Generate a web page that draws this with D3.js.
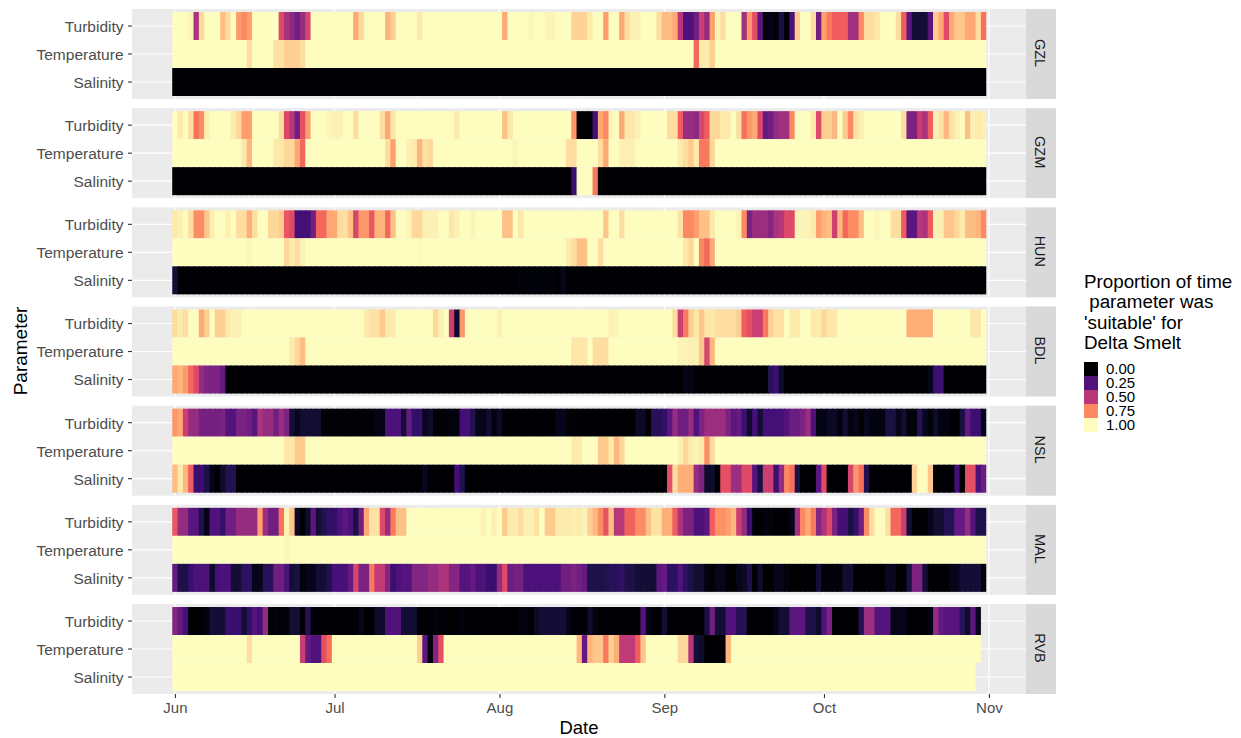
<!DOCTYPE html>
<html><head><meta charset="utf-8">
<script src="https://cdn.jsdelivr.net/npm/d3@7"></script>
<style>html,body{margin:0;padding:0;background:#fff}svg{display:block}text{font-family:"Liberation Sans",Arial,sans-serif}</style>
</head><body><svg id="c" width="1241" height="738"></svg>
<script>
const stations=["GZL","GZM","HUN","BDL","NSL","MAL","RVB"];
const parameters=["Turbidity","Temperature","Salinity"];
const monthTicks=[["Jun",5,1],["Jul",6,1],["Aug",7,1],["Sep",8,1],["Oct",9,1],["Nov",10,1]];
const legendValues=[0,0.25,0.5,0.75,1];
const legendLabels=["0.00","0.25","0.50","0.75","1.00"];
const legendTitle=["Proportion of time"," parameter was","'suitable' for","Delta Smelt"];
// each row: [first day index, proportion] — value holds until the next entry
const GZL_Turbidity=[[0,1],[3,.98],[4,.47],[5,.92],[6,1],[9,.86],[10,.93],[11,1],[12,.79],[13,.75],[14,.8],[15,1],[20,.6],[21,.47],[22,.4],[23,.33],[24,.42],[25,.58],[26,1],[34,.82],[35,.92],[36,1],[40,.84],[41,.9],[42,1],[46,.96],[47,1],[62,.82],[63,1],[67,.985],[68,1],[70,.98],[72,1],[75,.91],[78,.96],[79,1],[81,.8],[82,1],[84,.82],[85,.93],[86,.97],[88,1],[91,.93],[92,.86],[94,.82],[95,.5],[96,.25],[98,.33],[99,.55],[100,.42],[101,.8],[102,.98],[103,.93],[104,1],[107,.45],[108,.78],[109,.62],[110,.28],[111,.02],[112,.04],[113,.02],[114,.12],[115,0],[116,.24],[117,.89],[118,1],[120,.93],[121,.33],[122,.8],[123,.72],[124,.66],[127,.45],[129,.75],[130,.93],[132,.95],[133,1],[136,.93],[137,.66],[138,.28],[139,.1],[142,.27],[143,.89],[144,.82],[145,.6],[146,.82],[147,.88],[149,.82],[151,.93],[152,.7]];
const GZL_Temperature=[[0,1],[14,.93],[15,1],[19,.94],[21,.9],[24,.93],[25,1],[98,.68],[99,.96],[101,.9],[102,1]];
const GZL_Salinity=[[0,0]];
const GZM_Turbidity=[[0,1],[1,.96],[2,1],[3,.93],[4,.7],[5,.76],[6,.97],[7,1],[11,.96],[12,.92],[13,.8],[15,1],[20,.93],[21,.6],[22,.5],[23,.33],[24,.62],[25,.8],[26,1],[29,.985],[30,.975],[32,1],[34,.93],[35,1],[39,.93],[40,.82],[41,.95],[42,1],[53,.96],[54,1],[62,.87],[63,.95],[64,1],[75,.78],[76,0],[79,.22],[80,.82],[81,.75],[82,.98],[83,1],[84,.82],[85,.95],[87,.97],[88,1],[93,.93],[95,.66],[96,.43],[98,.4],[99,.58],[100,.66],[101,.92],[103,.96],[105,1],[106,.93],[107,.7],[108,.78],[109,.82],[110,.6],[111,.3],[112,.33],[113,.42],[114,.45],[116,.75],[117,1],[120,.96],[121,.6],[122,.9],[124,.85],[125,1],[126,.89],[127,.75],[128,.94],[129,.97],[130,1],[137,.93],[138,.36],[140,.55],[141,.47],[142,.66],[143,.97],[144,.94],[145,.85],[146,.94],[147,.97],[148,1],[149,.87],[150,.97],[151,.96],[152,.97]];
const GZM_Temperature=[[0,1],[13,.95],[14,.85],[15,1],[19,.96],[20,.95],[21,.92],[23,.82],[24,.68],[25,1],[40,.93],[41,.8],[42,1],[44,.97],[45,.96],[46,.84],[47,.94],[48,.92],[49,1],[64,.985],[65,1],[74,.93],[76,1],[80,.93],[81,.82],[82,1],[84,.97],[87,1],[95,.96],[96,.93],[97,.89],[98,.96],[99,.72],[101,.92],[102,1]];
const GZM_Salinity=[[0,0],[75,.2],[76,1],[79,.72],[80,0]];
const HUN_Turbidity=[[0,.96],[1,.97],[2,1],[3,.93],[4,.76],[6,.88],[7,.97],[8,1],[10,.97],[11,1],[12,.93],[14,.83],[15,.93],[16,1],[18,.92],[20,.89],[21,.64],[22,.6],[23,.22],[26,.33],[27,.68],[29,.82],[31,.93],[33,.87],[34,.58],[35,.78],[37,.64],[38,.84],[40,.68],[41,.87],[42,1],[44,.98],[45,.92],[47,.97],[50,1],[52,.95],[53,.97],[54,1],[56,.98],[57,1],[62,.87],[64,1],[65,.95],[66,1],[81,.88],[82,1],[84,.93],[85,1],[95,.94],[96,.75],[98,.8],[99,.87],[101,.96],[102,1],[106,.98],[107,.75],[108,.35],[109,.44],[112,.38],[113,.47],[114,.5],[115,.6],[117,.98],[120,.96],[121,.8],[122,.84],[123,.86],[124,.56],[125,.85],[126,.68],[127,.76],[129,.86],[130,1],[132,.985],[133,1],[135,.93],[137,.65],[138,.28],[140,.5],[141,.48],[142,.65],[143,.97],[145,.88],[147,.92],[148,.96],[149,.86],[151,.84],[152,.75]];
const HUN_Temperature=[[0,1],[14,.985],[15,1],[21,.92],[22,.96],[23,.93],[24,.98],[25,1],[46,.99],[47,1],[74,.96],[75,.93],[76,.87],[78,1],[80,.93],[81,1],[96,.95],[97,.92],[98,1],[99,.75],[100,.68],[101,.82],[102,1]];
const HUN_Salinity=[[0,.1],[1,0],[65,.02],[72,0],[73,.05],[74,0]];
const BDL_Turbidity=[[0,.93],[1,.96],[2,.93],[3,1],[5,.82],[6,.9],[7,1],[8,.9],[10,.96],[11,.97],[13,1],[36,.96],[37,.94],[39,.89],[40,.96],[42,1],[49,.92],[50,.97],[51,1],[52,.55],[53,.08],[54,.78],[55,1],[61,.97],[62,1],[82,.97],[83,.985],[84,1],[94,.93],[95,.55],[96,.72],[97,.9],[98,.95],[99,.88],[100,.95],[102,.93],[106,.9],[107,.66],[108,.62],[109,.55],[111,.72],[112,.9],[113,.94],[115,1],[116,.96],[118,1],[120,.96],[122,.92],[123,.95],[125,1],[138,.83],[143,1],[150,.95],[152,1]];
const BDL_Temperature=[[0,1],[22,.96],[23,.92],[24,.86],[25,1],[75,.95],[78,1],[79,.93],[82,1],[95,.98],[97,.97],[99,.88],[100,.58],[101,.85],[102,1]];
const BDL_Salinity=[[0,.82],[1,.84],[2,.79],[3,.68],[4,.6],[5,.42],[6,.37],[7,.36],[9,.3],[10,0],[96,.04],[98,0],[112,.16],[113,.2],[114,.08],[115,0],[142,.05],[143,.2],[145,0]];
const NSL_Turbidity=[[0,.78],[1,.82],[2,.55],[3,.42],[5,.34],[9,.36],[10,.26],[12,.35],[14,.33],[15,.27],[16,.47],[17,.42],[19,.33],[20,.44],[21,.36],[22,.1],[23,.06],[24,.09],[28,.01],[38,.04],[40,.24],[43,.1],[44,.3],[45,.18],[47,.06],[48,.08],[49,.01],[52,.03],[54,.22],[56,.14],[57,.05],[59,.09],[60,.03],[61,.07],[62,0],[72,.05],[74,.01],[76,0],[87,.07],[89,0],[90,.16],[92,.18],[93,.28],[94,.42],[95,.33],[97,.42],[98,.25],[99,.36],[100,.44],[104,.36],[105,.28],[106,.3],[107,.2],[108,.08],[109,.22],[110,.1],[111,.22],[115,.26],[116,.32],[118,.36],[119,.44],[120,.24],[121,.04],[123,.07],[125,.03],[126,.09],[127,.03],[128,.05],[129,.01],[130,.06],[131,.03],[134,.12],[136,.05],[137,.09],[138,.02],[140,.15],[141,.06],[142,.02],[143,.08],[144,.03],[146,0],[148,.12],[149,.3],[150,.2],[152,.05]];
const NSL_Temperature=[[0,1],[21,.95],[23,.89],[25,1],[75,.96],[77,1],[80,.89],[82,.96],[83,.85],[84,.92],[85,1],[95,.97],[96,.92],[97,.96],[98,.98],[99,.96],[100,.76],[101,.93],[102,1]];
const NSL_Salinity=[[0,.86],[1,.96],[2,.85],[3,.66],[4,.2],[6,.13],[7,.04],[8,0],[9,.08],[10,.14],[12,0],[47,.06],[48,0],[53,.22],[54,.14],[55,0],[93,.62],[94,.93],[95,.83],[98,.42],[99,.36],[100,.08],[102,0],[103,.62],[105,.44],[107,.6],[109,.26],[110,.12],[111,.55],[113,.2],[114,.42],[115,.75],[116,.7],[117,.12],[118,0],[121,.28],[122,.6],[123,0],[127,.58],[128,.78],[129,.7],[130,.14],[131,0],[139,.91],[140,1],[142,.88],[143,0],[147,.22],[148,0],[149,.62],[151,.24],[152,.32]];
const MAL_Turbidity=[[0,.64],[1,.42],[3,.27],[5,.13],[6,.04],[7,.25],[9,.18],[10,.33],[12,.42],[16,.8],[17,.44],[18,.33],[20,.7],[21,.98],[22,.88],[23,.07],[24,0],[25,.08],[26,.28],[27,.1],[28,.14],[29,.18],[31,.24],[32,.28],[33,.24],[34,.12],[35,.33],[36,.82],[37,.94],[39,.6],[40,.42],[41,.72],[42,.87],[44,1],[58,.98],[59,1],[60,.97],[61,1],[62,.89],[63,.96],[65,.93],[66,.97],[68,.94],[69,1],[70,.89],[72,.96],[75,.97],[76,.96],[77,.98],[78,.9],[79,.85],[80,.76],[81,.63],[82,.87],[83,.5],[85,.67],[87,.76],[89,.87],[90,.94],[92,.83],[94,.66],[95,.48],[96,.36],[98,.24],[100,.28],[101,.66],[102,.77],[104,.8],[105,.85],[106,.55],[107,.42],[108,.2],[109,.01],[111,.03],[112,.02],[113,0],[116,.04],[117,.45],[118,.75],[119,.82],[120,.72],[121,.38],[122,.48],[123,.6],[124,.36],[125,.22],[127,.12],[128,.18],[129,.33],[130,.76],[131,.93],[132,1],[134,.94],[135,.68],[137,.55],[138,.1],[139,0],[142,.05],[143,.09],[145,.15],[147,.3],[149,.42],[150,.26],[151,.13]];
const MAL_Temperature=[[0,1],[21,.985],[22,1]];
const MAL_Salinity=[[0,.3],[1,.13],[3,.2],[4,.24],[7,.08],[8,.22],[9,.24],[11,.1],[13,.17],[15,.05],[17,.16],[19,.33],[21,.24],[22,.1],[23,.12],[24,.02],[25,.05],[27,.1],[29,.14],[30,.23],[33,.3],[34,.58],[35,.36],[37,.72],[38,.52],[40,.38],[41,.2],[42,.24],[43,.26],[45,.37],[48,.42],[50,.48],[52,.38],[54,.26],[56,.3],[57,.24],[59,.2],[61,.42],[62,.6],[63,.32],[64,.34],[66,.24],[73,.33],[75,.36],[76,.33],[77,.3],[78,.13],[81,.14],[82,.16],[84,.18],[85,.13],[87,.1],[91,.28],[92,.3],[93,.17],[95,.25],[96,.17],[97,.13],[98,.09],[100,.03],[101,.01],[102,.05],[104,0],[106,.05],[107,.07],[108,.13],[109,0],[110,.08],[111,0],[113,.05],[115,.02],[116,0],[121,.1],[122,.02],[126,.09],[128,0],[134,.06],[136,0],[138,.12],[139,.36],[141,.1],[142,0],[146,.05],[148,.1],[152,.02]];
const RVB_Turbidity=[[0,.38],[1,.3],[2,.22],[3,0],[6,.03],[7,.1],[10,.2],[13,.1],[14,.18],[15,.26],[16,.22],[17,.42],[18,0],[19,.02],[22,.1],[24,0],[25,.15],[26,0],[35,.05],[36,0],[38,.08],[40,.25],[43,.1],[46,0],[49,.03],[50,0],[54,.03],[55,0],[65,.03],[67,0],[68,.07],[69,.1],[74,.05],[75,0],[78,.08],[79,.03],[80,0],[88,.26],[89,.05],[90,0],[92,.09],[93,0],[100,.12],[101,.33],[102,.1],[104,.25],[106,.15],[108,0],[113,.05],[114,.1],[116,.28],[119,.13],[121,.08],[122,.25],[123,.36],[124,0],[129,.15],[130,.44],[132,.26],[135,.05],[138,0],[142,.04],[143,.42],[144,.3],[145,.27],[148,.16],[149,.08],[150,.28],[151,.05],[152,null]];
const RVB_Temperature=[[0,1],[14,.93],[15,1],[24,.55],[25,.3],[26,.25],[28,.62],[29,.7],[30,1],[46,.9],[47,.28],[48,.02],[49,.38],[50,.62],[51,1],[76,.85],[77,.3],[78,.84],[79,.88],[81,.72],[82,.9],[83,.83],[84,.52],[87,.66],[88,.88],[89,1],[95,.92],[97,.5],[98,.1],[99,.08],[100,0],[104,.84],[105,1],[152,null]];
const RVB_Salinity=[[0,1],[151,null]];

const rows={GZL:[GZL_Turbidity,GZL_Temperature,GZL_Salinity],GZM:[GZM_Turbidity,GZM_Temperature,GZM_Salinity],HUN:[HUN_Turbidity,HUN_Temperature,HUN_Salinity],BDL:[BDL_Turbidity,BDL_Temperature,BDL_Salinity],NSL:[NSL_Turbidity,NSL_Temperature,NSL_Salinity],MAL:[MAL_Turbidity,MAL_Temperature,MAL_Salinity],RVB:[RVB_Turbidity,RVB_Temperature,RVB_Salinity]};

const dayCount=153;
function expand(br){const out=[];let k=0;for(let d=0;d<dayCount;d++){while(k+1<br.length&&br[k+1][0]<=d)k++;out.push(br[k][1]);}return out;}
const utc=(m,d)=>new Date(Date.UTC(2017,m,d));
const svg=d3.select("#c");
const panelLeft=132,panelRight=1026,stripRight=1056,panelH=90,panelStep=99.17,panelTop0=9;
const x=d3.scaleUtc().domain([utc(5,1),utc(10,1)]).range([174.9,988.9]);
const color=v=>d3.interpolateMagma(v);
const dayDate=d=>utc(5,1+d);
const tickDates=monthTicks.map(m=>utc(m[1],m[2]));
const minorDates=tickDates.slice(0,-1).map((t,i)=>new Date((+t + +tickDates[i+1])/2));
const panelY=d3.scaleBand().domain(stations).range([panelTop0,panelTop0+panelStep*stations.length]);
const dayW=x(dayDate(1))-x(dayDate(0));

stations.forEach(st=>{
  const top=panelY(st);
  const g=svg.append("g");
  g.append("rect").attr("x",panelLeft).attr("y",top).attr("width",panelRight-panelLeft).attr("height",panelH).attr("fill","#EBEBEB");
  const y=d3.scaleBand().domain(parameters).range([top+3,top+87]);
  g.selectAll("line.minor").data(minorDates).join("line").attr("x1",d=>x(d)).attr("x2",d=>x(d)).attr("y1",top).attr("y2",top+panelH).attr("stroke","#fff").attr("stroke-width",.6);
  g.selectAll("line.major").data(tickDates).join("line").attr("x1",d=>x(d)).attr("x2",d=>x(d)).attr("y1",top).attr("y2",top+panelH).attr("stroke","#fff").attr("stroke-width",1.2);
  g.selectAll("line.h").data(parameters).join("line").attr("x1",panelLeft).attr("x2",panelRight).attr("y1",d=>y(d)+y.bandwidth()/2).attr("y2",d=>y(d)+y.bandwidth()/2).attr("stroke","#fff").attr("stroke-width",1.2);
  parameters.forEach((p,pi)=>{
    const vals=expand(rows[st][pi]).map((v,d)=>({d,v})).filter(c=>c.v!==null);
    const last=vals[vals.length-1].d;
    g.append("g").selectAll("rect").data(vals).join("rect")
      .attr("x",c=>x(dayDate(c.d))-dayW/2)
      .attr("y",y(p)).attr("height",y.bandwidth())
      .attr("width",c=>dayW+(c.d<last?1:0))
      .attr("fill",c=>color(c.v));
  });
  const ya=svg.append("g").attr("transform",`translate(${panelLeft},0)`).call(d3.axisLeft(y).tickSize(4).tickPadding(4.5));
  ya.select(".domain").remove();
  ya.selectAll("line").attr("stroke","#333").attr("stroke-width",1.1);
  ya.selectAll("text").attr("fill","#4D4D4D").attr("dy","0.38em").style("font-size","15.5px");
  g.append("rect").attr("x",panelRight).attr("y",top).attr("width",stripRight-panelRight).attr("height",panelH).attr("fill","#D9D9D9");
  g.append("text").attr("transform",`translate(${(panelRight+stripRight)/2-1},${top+panelH/2-1}) rotate(90)`).attr("text-anchor","middle").attr("dy","0.35em").attr("fill","#1A1A1A").style("font-size","14.5px").text(st);
});

const bottom=panelTop0+panelStep*6+panelH;
const xa=svg.append("g").attr("transform",`translate(0,${bottom})`).call(d3.axisBottom(x).tickValues(tickDates).tickFormat((d,i)=>monthTicks[i][0]).tickSize(4).tickPadding(4));
xa.select(".domain").remove();
xa.selectAll("line").attr("stroke","#333").attr("stroke-width",1.1);
xa.selectAll("text").attr("fill","#4D4D4D").style("font-size","15px");

svg.append("text").attr("x",579).attr("y",734).attr("text-anchor","middle").attr("fill","#000").style("font-size","18.5px").text("Date");
svg.append("text").attr("transform","translate(27,351) rotate(-90)").attr("text-anchor","middle").attr("fill","#000").style("font-size","19px").text("Parameter");

const lt=svg.append("text").attr("fill","#000").style("font-size","18.8px");
legendTitle.forEach((t,i)=>lt.append("tspan").attr("x",1084).attr("y",288+i*20.4).style("white-space","pre").text(t));
const ly=d3.scaleBand().domain(legendValues).range([362,432]);
const lg=svg.append("g");
lg.selectAll("rect").data(legendValues).join("rect").attr("x",1084).attr("y",d=>ly(d)).attr("width",14).attr("height",ly.bandwidth()+.2).attr("fill",d=>color(d));
lg.selectAll("text").data(legendValues).join("text").attr("x",1106).attr("y",d=>ly(d)+ly.bandwidth()/2).attr("dy","0.36em").style("font-size","15px").attr("fill","#000").text((d,i)=>legendLabels[i]);
</script></body></html>
